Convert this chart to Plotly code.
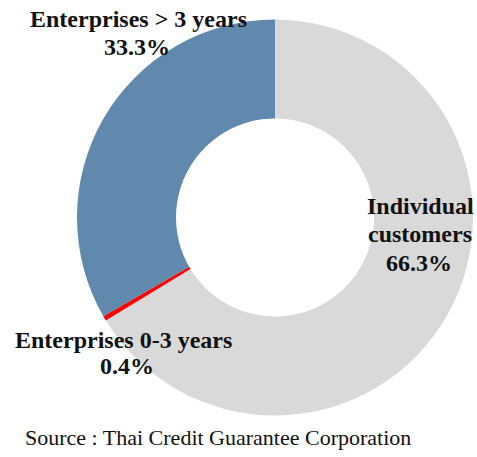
import plotly.graph_objects as go

W, H = 477, 457

categories = ["Individual customers", "Enterprises 0-3 years", "Enterprises > 3 years"]
values = [66.3, 0.4, 33.3]
colors = ["#D9D9D9", "#FF0000", "#6089AD"]

label_lines = [
    ("Enterprises > 3 years", 138, 19),
    ("33.3%", 137, 47),
    ("Individual", 420, 206),
    ("customers", 420, 234),
    ("66.3%", 419, 263),
    ("Enterprises 0-3 years", 124, 340),
    ("0.4%", 127, 366),
]
source_text = "Source : Thai Credit Guarantee Corporation"

cx, cy, r = 275, 217.5, 198

fig = go.Figure(go.Pie(
    labels=categories,
    values=values,
    marker=dict(colors=colors, line=dict(width=0)),
    hole=0.5,
    sort=False,
    direction="clockwise",
    rotation=0,
    textinfo="none",
    hoverinfo="label+percent",
    domain=dict(x=[(cx - r) / W, (cx + r) / W],
                y=[(H - cy - r) / H, (H - cy + r) / H]),
))

annotations = []
for txt, px, py in label_lines:
    annotations.append(dict(
        text="<b>" + txt + "</b>", x=px / W, y=1 - py / H,
        xref="paper", yref="paper", xanchor="center", yanchor="middle",
        showarrow=False,
        font=dict(family="Liberation Serif", size=24, color="#111111"),
    ))
annotations.append(dict(
    text=source_text, x=23 / W, y=1 - 437 / H,
    xref="paper", yref="paper", xanchor="left", yanchor="middle",
    showarrow=False,
    font=dict(family="Liberation Serif", size=22, color="#111111"),
))

fig.update_layout(
    width=W, height=H,
    margin=dict(l=0, r=0, t=0, b=0),
    paper_bgcolor="white", plot_bgcolor="white",
    showlegend=False,
    annotations=annotations,
)

fig.write_html(
    "out.html",
    config={"displayModeBar": False},
    post_script="document.body.style.margin='0';document.body.style.overflow='hidden';",
)
